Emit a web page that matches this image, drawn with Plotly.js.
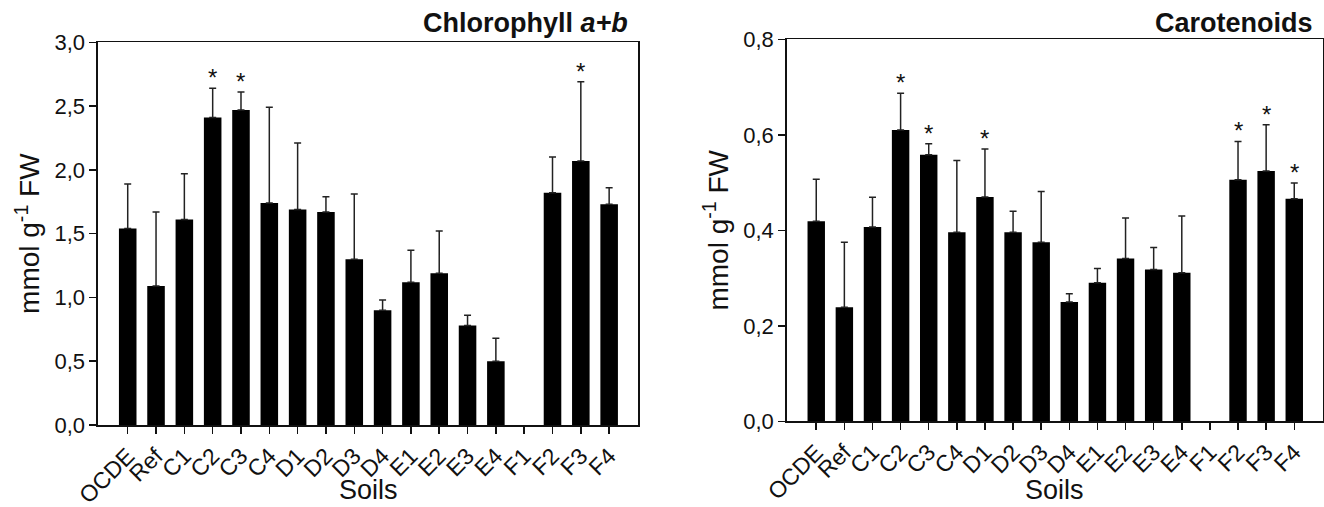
<!DOCTYPE html>
<html>
<head>
<meta charset="utf-8">
<script src="https://cdn.plot.ly/plotly-3.0.1.min.js"></script>
<style>
html,body{margin:0;padding:0;background:#fff;}
#chart{width:1324px;height:507px;}
</style>
</head>
<body>
<div id="chart"></div>
<script>
// ---- data ----
var soils = ["OCDE","Ref","C1","C2","C3","C4","D1","D2","D3","D4","E1","E2","E3","E4","F1","F2","F3","F4"];

var chlMean = [1.54,1.09,1.61,2.41,2.47,1.74,1.69,1.67,1.30,0.90,1.12,1.19,0.78,0.50,null,1.82,2.07,1.73];
var chlSD   = [0.35,0.58,0.36,0.23,0.14,0.75,0.52,0.12,0.51,0.08,0.25,0.33,0.08,0.18,null,0.28,0.62,0.13];
var chlStar = ["C2","C3","F3"];

var carMean = [0.419,0.239,0.407,0.610,0.558,0.396,0.470,0.396,0.375,0.250,0.290,0.341,0.318,0.311,null,0.506,0.524,0.466];
var carSD   = [0.088,0.136,0.062,0.077,0.023,0.150,0.100,0.044,0.106,0.017,0.030,0.085,0.046,0.119,null,0.080,0.097,0.033];
var carStar = ["C2","C3","D1","F2","F3","F4"];

var chlTicks = [0,0.5,1,1.5,2,2.5,3];
var carTicks = [0,0.2,0.4,0.6,0.8];

// ---- chart ----
var FONT = "Liberation Sans, Arial, sans-serif";
var ink = "#111";

function barTrace(y, sd, xa, ya){
  return {
    type: "bar", x: soils, y: y, xaxis: xa, yaxis: ya,
    marker: {color: "#000", line: {width: 0}},
    width: 0.62,
    error_y: {type: "data", array: sd, symmetric: false,
              arrayminus: sd.map(function(){return 0;}),
              color: "#222", thickness: 1.5, width: 3.5},
    showlegend: false, hoverinfo: "x+y"
  };
}

var traces = [
  barTrace(chlMean, chlSD, "x", "y"),
  barTrace(carMean, carSD, "x2", "y2")
];

function stars(list, mean, sd, xa, ya){
  return list.map(function(name){
    var i = soils.indexOf(name);
    return {xref: xa, yref: ya, x: name, y: mean[i] + sd[i],
            text: "*", showarrow: false, yanchor: "bottom", yshift: -5,
            font: {family: FONT, size: 24, color: ink}};
  });
}

var dom1 = [0.0740, 0.4819], dom2 = [0.5942, 0.9992];

function xaxisCfg(domain){
  return {
    domain: domain, type: "category", categoryarray: soils, categoryorder: "array",
    range: [-1.05, 18.02], showline: true, mirror: true, linecolor: ink, linewidth: 1.5,
    ticks: "outside", ticklen: 7, tickwidth: 1.5, tickcolor: ink, tickangle: -45,
    tickfont: {family: FONT, size: 23, color: ink},
    showgrid: false, zeroline: false, automargin: false
  };
}
function yaxisCfg(domain, range, ticks){
  return {
    domain: domain, range: range, tickvals: ticks, tickformat: ".1f",
    showline: true, mirror: true, linecolor: ink, linewidth: 1.5,
    ticks: "outside", ticklen: 7, tickwidth: 1.5, tickcolor: ink,
    tickfont: {family: FONT, size: 22, color: ink},
    showgrid: false, zeroline: false, automargin: false,
    title: {text: "mmol g<sup>-1</sup> FW", font: {family: FONT, size: 28, color: ink}, standoff: 6}
  };
}

function xTitle(domain){
  return {xref: "paper", yref: "paper", x: (domain[0] + domain[1]) / 2, y: 0.0,
          xanchor: "center", yanchor: "bottom", text: "Soils", showarrow: false,
          font: {family: FONT, size: 27, color: ink}};
}

var layout = {
  width: 1324, height: 507,
  margin: {l: 0, r: 0, t: 0, b: 0},
  paper_bgcolor: "#fff", plot_bgcolor: "#fff",
  separators: ",.",
  bargap: 0.38,
  xaxis: xaxisCfg(dom1),
  yaxis: yaxisCfg([0.1617, 0.9166], [0, 3], chlTicks),
  xaxis2: Object.assign(xaxisCfg(dom2), {anchor: "y2"}),
  yaxis2: Object.assign(yaxisCfg([0.1690, 0.9225], [0, 0.8], carTicks), {anchor: "x2"}),
  annotations: [
    {xref: "paper", yref: "paper", x: 0.4758, y: 0.955, xanchor: "right", yanchor: "middle",
     text: "<b>Chlorophyll <i>a+b</i></b>", showarrow: false,
     font: {family: FONT, size: 27, color: ink}},
    {xref: "paper", yref: "paper", x: 0.9932, y: 0.955, xanchor: "right", yanchor: "middle",
     text: "<b>Carotenoids</b>", showarrow: false,
     font: {family: FONT, size: 27, color: ink}},
    xTitle(dom1), xTitle(dom2)
  ].concat(stars(chlStar, chlMean, chlSD, "x", "y"))
   .concat(stars(carStar, carMean, carSD, "x2", "y2"))
};
layout.yaxis.anchor = "x";
layout.xaxis.anchor = "y";

Plotly.newPlot("chart", traces, layout, {staticPlot: true, displayModeBar: false});
</script>
</body>
</html>
